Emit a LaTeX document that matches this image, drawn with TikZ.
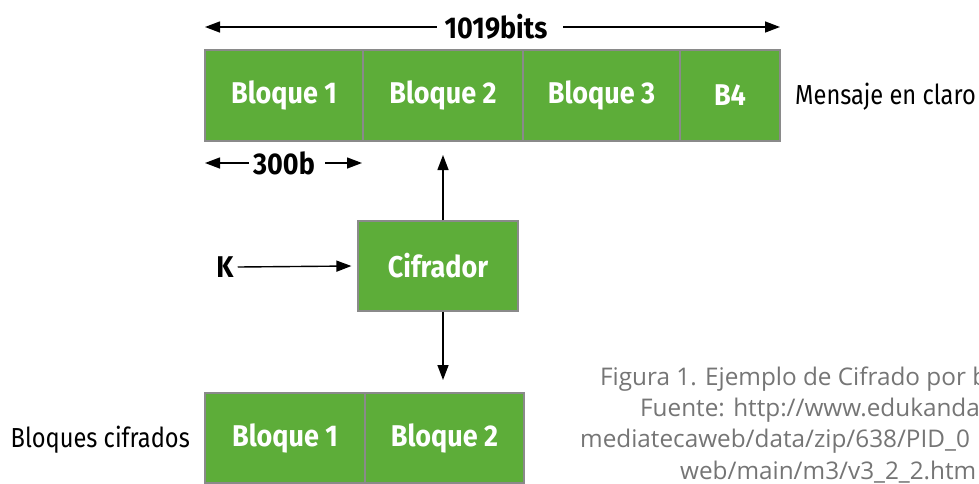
\documentclass[tikz,border=0pt]{standalone}
\usepackage{fontspec}
\usetikzlibrary{arrows.meta}
\newfontfamily\condfont[FakeStretch=0.9]{Fira Sans}
\newfontfamily\plainfont[FakeStretch=0.86]{Fira Sans}
\newfontfamily\capfont{Open Sans}
\definecolor{blockgreen}{HTML}{5DAD39}
\definecolor{blockedge}{HTML}{8A8A8A}
\definecolor{capgray}{HTML}{757575}
\tikzset{
  blk/.style={draw=blockedge, line width=1.2pt, fill=blockgreen, minimum height=91pt,
    inner sep=0pt, text=white, font=\condfont\bfseries\fontsize{30}{32}\selectfont},
  lbl/.style={inner sep=0pt, font=\condfont\bfseries\fontsize{30}{32}\selectfont},
  plain/.style={inner sep=0pt, font=\plainfont\fontsize{27.5}{32}\selectfont},
  captext/.style={inner sep=0pt, anchor=west, text=capgray, font=\capfont\fontsize{24.3}{26}\selectfont},
  arr/.style={line width=1.4pt, -{Triangle[length=15pt,width=11pt]}}
}
\begin{document}
\begin{tikzpicture}[x=1pt,y=-1pt]
\clip (0,0) rectangle (979,483);
\fill[white] (0,0) rectangle (979,483);
% top message blocks
\node[blk, minimum width=158pt] (b1) at (284,95.5) {Bloque 1};
\node[blk, minimum width=160pt] (b2) at (443,95.5) {Bloque 2};
\node[blk, minimum width=157pt] (b3) at (601.5,95.5) {Bloque 3};
\node[blk, minimum width=100pt] (b4) at (730,95.5) {B4};
\node[plain, anchor=west] (msg) at (795,97) {Mensaje en claro};
% 1019 bits
\node[lbl, inner xsep=8pt] (bits) at (496,27) {1019bits};
\coordinate (bl) at (205,27);
\coordinate (br) at (780,27);
\draw[arr] (bits.west) -- (bl);
\draw[arr] ([xshift=8pt]bits.east) -- (br);
% 300b
\node[lbl, inner xsep=4pt] (tb) at (284,163) {300b};
\coordinate (tl) at (205,163);
\coordinate (tr) at (362,163);
\draw[arr] (tb.west) -- (tl);
\draw[arr] ([xshift=6pt]tb.east) -- (tr);
% cipher
\node[blk, minimum width=160pt, minimum height=90pt] (ciph) at (438,266) {Cifrador};
\node[lbl] (k) at (225,267) {K};
\draw[arr] ([xshift=4pt]k.east) -- ([xshift=-6pt]ciph.west);
\coordinate (up) at (443,155);
\draw[arr] (ciph.north -| up) -- (up);
\coordinate (dn) at (443,380);
\draw[arr] (ciph.south -| dn) -- (dn);
% ciphered blocks
\node[blk, minimum width=160pt, minimum height=90pt] (c1) at (285,438) {Bloque 1};
\node[blk, minimum width=159pt, minimum height=90pt] (c2) at (444.5,438) {Bloque 2};
\node[plain, anchor=east] (cif) at (190,440) {Bloques cifrados};
% caption
\node[captext] (cap1) at (600,379) {Figura 1. Ejemplo de Cifrado por b};
\node[captext] (cap2) at (640,410) {Fuente: http://www.edukanda};
\node[captext] (cap3) at (580,441) {mediatecaweb/data/zip/638/PID\_0};
\node[captext] (cap4) at (680,472) {web/main/m3/v3\_2\_2.htm};
\end{tikzpicture}
\end{document}
